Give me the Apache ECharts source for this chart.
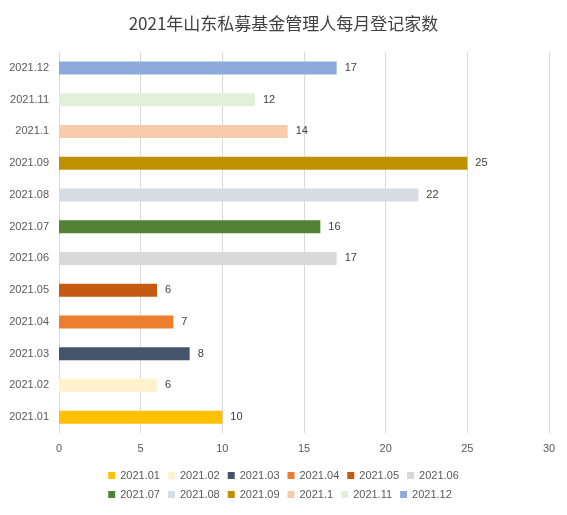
<!DOCTYPE html>
<html><head><meta charset="utf-8">
<script src="https://cdn.jsdelivr.net/npm/echarts@6/dist/echarts.min.js"></script>
<style>html,body{margin:0;padding:0;background:#fff}#c{width:567px;height:515px}</style>
</head><body><div id="c"></div>
<script>
const categories = ['2021.01','2021.02','2021.03','2021.04','2021.05','2021.06','2021.07','2021.08','2021.09','2021.1','2021.11','2021.12'];
const values = [10,6,8,7,6,17,16,22,25,14,12,17];
const colors = ['#FFC000','#FFF2CC','#44546A','#ED7D31','#C55A11','#D9D9D9','#548235','#D6DCE4','#BF9000','#F8CBAD','#E2EFDA','#8EA9DB'];
const xTicks = {min:0,max:30,interval:5};

const series = categories.map((c,i)=>({
  name:c, type:'bar', stack:'s', barWidth:13,
  itemStyle:{color:colors[i]},
  label:{show:true,position:'right',color:'#404040',fontSize:11,distance:8},
  data: categories.map((_,j)=> j===i ? values[i] : null)
}));
const chart = echarts.init(document.getElementById('c'));
chart.setOption({
  animation:false,
  title:{text:'2021年山东私募基金管理人每月登记家数',left:'center',top:10,
    textStyle:{fontSize:17,fontWeight:'normal',color:'#404040',fontFamily:'Noto Sans CJK SC'}},
  grid:{left:59,right:18,top:52,bottom:82,containLabel:false},
  xAxis:{type:'value',min:xTicks.min,max:xTicks.max,interval:xTicks.interval,
    axisLabel:{color:'#595959',fontSize:11,margin:10},
    splitLine:{lineStyle:{color:'#D9D9D9'}},axisLine:{show:false},axisTick:{show:false}},
  yAxis:{type:'category',data:categories,
    axisLabel:{color:'#595959',fontSize:11,margin:10},
    axisLine:{lineStyle:{color:'#D9D9D9'}},axisTick:{show:false}},
  legend:{bottom:10,left:'center',width:380,itemWidth:7,itemHeight:7,itemGap:8,icon:'rect',
    textStyle:{color:'#595959',fontSize:11},data:categories},
  series
});
</script></body></html>
